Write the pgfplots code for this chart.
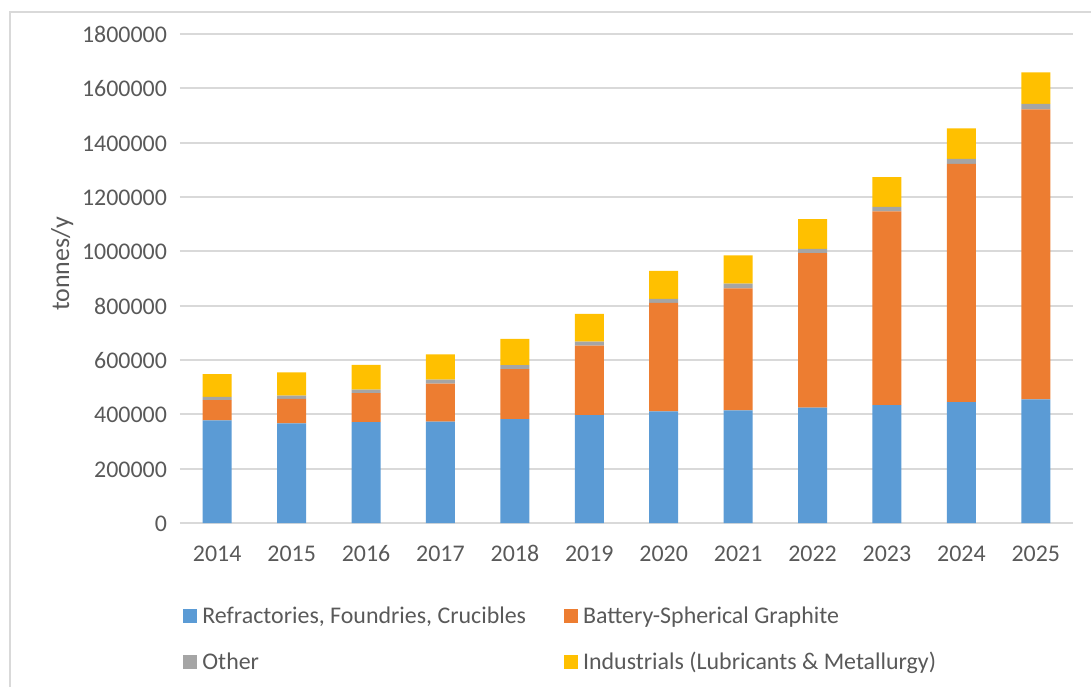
\documentclass[border=0pt]{standalone}
\usepackage{fontspec}
\setmainfont{Carlito}
\usepackage{pgfplots}
\usepackage{pgfplotstable}
\pgfplotsset{compat=1.18}
\definecolor{cblue}{HTML}{5B9BD5}
\definecolor{corange}{HTML}{ED7D31}
\definecolor{cgray}{HTML}{A5A5A5}
\definecolor{cyellow}{HTML}{FFC000}
\definecolor{textgray}{HTML}{595959}
\definecolor{gridgray}{HTML}{D9D9D9}
\pgfplotstableread{
idx blue orange other ind
0 378000 74000 12000 84000
1 367000 89500 12000 86000
2 371000 107000 13000 91000
3 373000 140000 15000 93000
4 382000 184000 15000 97000
5 397500 255000 15000 102000
6 411000 399000 15000 103000
7 415000 449000 17000 104000
8 424500 569000 16000 109000
9 434000 713000 17000 109000
10 445000 877000 18000 113000
11 455000 1068000 20000 116000
}\datatable
\begin{document}
\begin{tikzpicture}
\begin{axis}[
  scale only axis, width=446.5bp, height=244.5bp,
  ybar stacked, bar width=0.39,
  xmin=-0.5, xmax=11.5, ymin=0, ymax=1800000,
  xtick={0,...,11},
  xticklabels={2014,2015,2016,2017,2018,2019,2020,2021,2022,2023,2024,2025},
  ytick={0,200000,...,1800000},
  yticklabels={0,200000,400000,600000,800000,1000000,1200000,1400000,1600000,1800000},
  scaled y ticks=false,
  axis lines*=left, axis line style={draw=none},
  major tick length=0pt,
  ymajorgrids, grid style={color=gridgray, line width=1bp},
  tick label style={text=textgray, font=\fontsize{12}{14}\selectfont, text height=8.5bp, text depth=0bp},
  yticklabel style={xshift=-3bp},
  xticklabel style={yshift=-7bp},
  ylabel={tonnes/y},
  every axis y label/.style={at={(axis description cs:-0.132,0.53)}, rotate=90, anchor=center,
    text=textgray, font=\fontsize{13}{15}\selectfont},
  legend columns=2,
  legend cell align=left,
  legend style={draw=none, fill=none, at={(axis description cs:-0.0033,-0.154)}, anchor=north west,
    font=\fontsize{12}{14}\selectfont, text=textgray,
    /tikz/every odd column/.append style={column sep=0.5bp},
    /tikz/every even column/.append style={column sep=17bp},
    row sep=9bp},
  legend image code/.code={\fill[#1] (0bp,-3.5bp) rectangle (7bp,3.5bp);},
]
\addplot[fill=cblue, draw=none] table[x=idx, y=blue] {\datatable};
\addlegendentry{Refractories, Foundries, Crucibles}
\addplot[fill=corange, draw=none] table[x=idx, y=orange] {\datatable};
\addlegendentry{Battery-Spherical Graphite}
\addplot[fill=cgray, draw=none] table[x=idx, y=other] {\datatable};
\addlegendentry{Other}
\addplot[fill=cyellow, draw=none] table[x=idx, y=ind] {\datatable};
\addlegendentry{Industrials (Lubricants \& Metallurgy)}
\end{axis}
\draw[color=gridgray, line width=0.6bp] (-85bp,-82bp) -- (-85bp,255.5bp) -- (455.5bp,255.5bp);
\pgfresetboundingbox
\useasboundingbox (-90bp,-82bp) rectangle (455.5bp,261.5bp);
\end{tikzpicture}
\end{document}
